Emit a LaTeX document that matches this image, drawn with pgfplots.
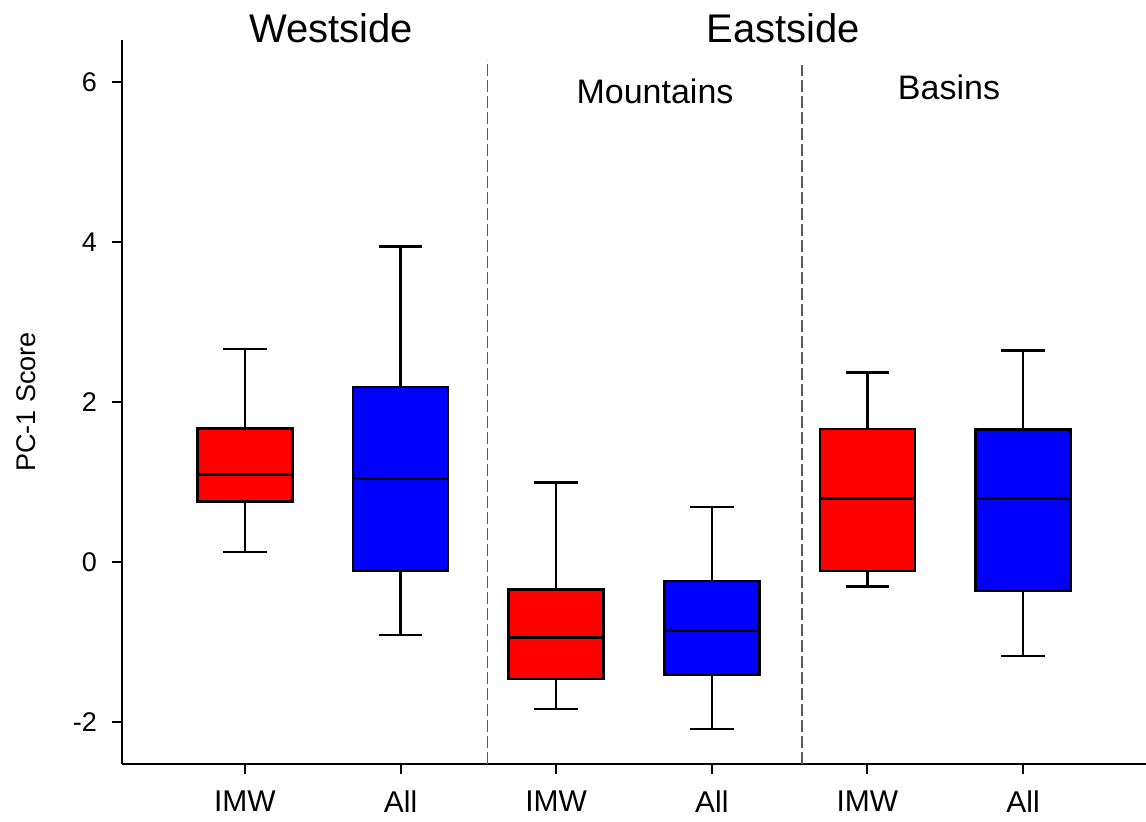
\documentclass[border=0pt]{standalone}
\usepackage{pgfplots}
\pgfplotsset{compat=1.18}
\usepgfplotslibrary{statistics}
\usepackage{fontspec}
\setmainfont{Liberation Sans}
\begin{document}
\begin{tikzpicture}
\begin{axis}[
  at={(0,0)}, anchor=south west,
  scale only axis,
  width=512pt, height=362pt,
  xmin=0.21, xmax=6.79,
  ymin=-2.52, ymax=6.53,
  axis x line=bottom, axis y line=left,
  axis line style={-, line width=1.3pt},
  clip=false,
  tick align=outside,
  major tick length=5pt,
  tick style={black, line width=1pt},
  xtick={1,2,3,4,5,6},
  xticklabels={IMW,All,IMW,All,IMW,All},
  ytick={-2,0,2,4,6},
  yticklabels={-2,0,2,4,6},
  xticklabel style={font=\fontsize{15pt}{18pt}\selectfont, yshift=-5pt},
  yticklabel style={font=\fontsize{13.5pt}{16pt}\selectfont, xshift=-4pt},
  ylabel={PC-1 Score},
  ylabel style={font=\fontsize{13.5pt}{16pt}\selectfont, at={(axis description cs:-0.094,0.5)}, anchor=center},
  boxplot/draw direction=y,
  boxplot/box extend=0.61,
  boxplot/whisker extend=0.28,
]
\addplot[black!65, dash pattern=on 6pt off 2pt, line width=0.7pt, forget plot] coordinates {(2.56,-2.52) (2.56,6.28)};
\addplot[black!65, dash pattern=on 6pt off 2pt, line width=0.7pt, forget plot] coordinates {(4.58,-2.52) (4.58,6.22)};

\addplot[boxplot prepared={draw position=1, lower whisker=0.13, lower quartile=0.76, median=1.10, upper quartile=1.675, upper whisker=2.67}, draw=black, line width=1.25pt, fill=red] coordinates {};
\addplot[boxplot prepared={draw position=2, lower whisker=-0.91, lower quartile=-0.11, median=1.05, upper quartile=2.19, upper whisker=3.95}, draw=black, line width=1.25pt, fill=blue] coordinates {};
\addplot[boxplot prepared={draw position=3, lower whisker=-1.83, lower quartile=-1.46, median=-0.94, upper quartile=-0.34, upper whisker=1.00}, draw=black, line width=1.25pt, fill=red] coordinates {};
\addplot[boxplot prepared={draw position=4, lower whisker=-2.08, lower quartile=-1.40, median=-0.86, upper quartile=-0.23, upper whisker=0.69}, draw=black, line width=1.25pt, fill=blue] coordinates {};
\addplot[boxplot prepared={draw position=5, lower whisker=-0.30, lower quartile=-0.11, median=0.80, upper quartile=1.67, upper whisker=2.375}, draw=black, line width=1.25pt, fill=red] coordinates {};
\addplot[boxplot prepared={draw position=6, lower whisker=-1.17, lower quartile=-0.35, median=0.80, upper quartile=1.66, upper whisker=2.65}, draw=black, line width=1.25pt, fill=blue] coordinates {};

\node[anchor=base, font=\fontsize{20pt}{24pt}\selectfont] at (axis cs:1.553,6.50) {Westside};
\node[anchor=base, font=\fontsize{20pt}{24pt}\selectfont] at (axis cs:4.458,6.50) {Eastside};
\node[anchor=base, font=\fontsize{17pt}{20pt}\selectfont] at (axis cs:3.635,5.73) {Mountains};
\node[anchor=base, font=\fontsize{17pt}{20pt}\selectfont] at (axis cs:5.524,5.79) {Basins};
\end{axis}
\pgfresetboundingbox
\path (-61pt,-28.5pt) rectangle (512pt,382pt);
\end{tikzpicture}
\end{document}
